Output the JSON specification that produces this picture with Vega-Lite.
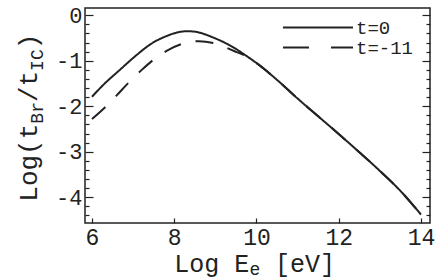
{
  "$schema": "https://vega.github.io/schema/vega-lite/v6.json",
  "width": 345,
  "height": 215,
  "autosize": {"type": "none"},
  "padding": {"left": 85, "top": 8, "right": 8, "bottom": 56},
  "background": "white",
  "config": {
    "view": {"stroke": "#222", "strokeWidth": 1.5},
    "axis": {"grid": false, "domain": false, "title": null, "tickColor": "#222", "labelColor": "#222", "labelFont": "Liberation Mono", "tickWidth": 1.2},
    "text": {"font": "Liberation Mono", "color": "#222", "fontWeight": "normal"}
  },
  "data": {
    "values": [
      {"x": 6.0, "y": -1.79, "s": "t=0"},
      {"x": 6.32, "y": -1.49, "s": "t=0"},
      {"x": 6.64, "y": -1.23, "s": "t=0"},
      {"x": 7.05, "y": -0.9, "s": "t=0"},
      {"x": 7.45, "y": -0.62, "s": "t=0"},
      {"x": 7.86, "y": -0.44, "s": "t=0"},
      {"x": 8.06, "y": -0.38, "s": "t=0"},
      {"x": 8.3, "y": -0.35, "s": "t=0"},
      {"x": 8.5, "y": -0.36, "s": "t=0"},
      {"x": 8.72, "y": -0.41, "s": "t=0"},
      {"x": 8.95, "y": -0.49, "s": "t=0"},
      {"x": 9.2, "y": -0.59, "s": "t=0"},
      {"x": 9.5, "y": -0.74, "s": "t=0"},
      {"x": 9.75, "y": -0.89, "s": "t=0"},
      {"x": 10.0, "y": -1.05, "s": "t=0"},
      {"x": 10.5, "y": -1.42, "s": "t=0"},
      {"x": 11.0, "y": -1.83, "s": "t=0"},
      {"x": 11.5, "y": -2.22, "s": "t=0"},
      {"x": 12.0, "y": -2.61, "s": "t=0"},
      {"x": 12.5, "y": -3.01, "s": "t=0"},
      {"x": 13.0, "y": -3.42, "s": "t=0"},
      {"x": 13.5, "y": -3.86, "s": "t=0"},
      {"x": 14.0, "y": -4.38, "s": "t=0"},
      {"x": 6.0, "y": -2.28, "s": "t=-11"},
      {"x": 6.32, "y": -2.02, "s": "t=-11"},
      {"x": 6.6, "y": -1.76, "s": "t=-11"},
      {"x": 6.88, "y": -1.49, "s": "t=-11"},
      {"x": 7.21, "y": -1.2, "s": "t=-11"},
      {"x": 7.49, "y": -0.98, "s": "t=-11"},
      {"x": 7.86, "y": -0.76, "s": "t=-11"},
      {"x": 8.22, "y": -0.62, "s": "t=-11"},
      {"x": 8.6, "y": -0.57, "s": "t=-11"},
      {"x": 9.03, "y": -0.63, "s": "t=-11"},
      {"x": 9.44, "y": -0.78, "s": "t=-11"},
      {"x": 9.75, "y": -0.9, "s": "t=-11"},
      {"x": 10.0, "y": -1.05, "s": "t=-11"},
      {"x": 10.5, "y": -1.42, "s": "t=-11"},
      {"x": 11.0, "y": -1.83, "s": "t=-11"},
      {"x": 11.5, "y": -2.22, "s": "t=-11"},
      {"x": 12.0, "y": -2.61, "s": "t=-11"},
      {"x": 12.5, "y": -3.01, "s": "t=-11"},
      {"x": 13.0, "y": -3.42, "s": "t=-11"},
      {"x": 13.5, "y": -3.86, "s": "t=-11"},
      {"x": 14.0, "y": -4.38, "s": "t=-11"}
    ]
  },
  "layer": [
    {
      "mark": {"type": "line", "strokeWidth": 2, "color": "#222", "interpolate": "monotone"},
      "encoding": {
        "x": {
          "field": "x", "type": "quantitative",
          "scale": {"domain": [5.83, 14.219], "nice": false, "zero": false},
          "axis": {"orient": "bottom", "values": [6, 8, 10, 12, 14], "tickSize": -5, "labelPadding": 8, "labelFontSize": 23, "labelFlush": false, "labelOverlap": false}
        },
        "y": {
          "field": "y", "type": "quantitative",
          "scale": {"domain": [-4.565, 0.16], "nice": false, "zero": false},
          "axis": {
            "orient": "left",
            "values": [0, -0.2, -0.4, -0.6, -0.8, -1, -1.2, -1.4, -1.6, -1.8, -2, -2.2, -2.4, -2.6, -2.8, -3, -3.2, -3.4, -3.6, -3.8, -4, -4.2, -4.4],
            "tickSize": {"condition": {"test": "abs(datum.value - round(datum.value)) < 0.001", "value": -8}, "value": -4},
            "labelPadding": 11,
            "labelFontSize": 22,
            "labelOverlap": false,
            "labelFlush": false,
            "labelExpr": "abs(datum.value - round(datum.value)) < 0.001 ? (datum.value < -0.5 ? '-' + abs(round(datum.value)) : '0') : ''"
          }
        },
        "strokeDash": {
          "field": "s", "type": "nominal",
          "scale": {"domain": ["t=0", "t=-11"], "range": [[1, 0], [18, 15]]},
          "legend": null
        }
      }
    },
    {
      "mark": {"type": "point", "opacity": 0},
      "encoding": {
        "x": {"field": "x", "type": "quantitative"},
        "y": {
          "field": "y", "type": "quantitative",
          "axis": {
            "orient": "right", "labels": false,
            "values": [0, -0.2, -0.4, -0.6, -0.8, -1, -1.2, -1.4, -1.6, -1.8, -2, -2.2, -2.4, -2.6, -2.8, -3, -3.2, -3.4, -3.6, -3.8, -4, -4.2, -4.4],
            "tickSize": {"condition": {"test": "abs(datum.value - round(datum.value)) < 0.001", "value": -8}, "value": -4}
          }
        }
      }
    },
    {
      "data": {"values": [{}]},
      "mark": {"type": "rule", "strokeWidth": 2, "color": "#222"},
      "encoding": {"x": {"datum": 10.644}, "x2": {"datum": 12.347}, "y": {"datum": -0.27, "axis": null}}
    },
    {
      "data": {"values": [{}]},
      "mark": {"type": "rule", "strokeWidth": 2, "color": "#222", "strokeDash": [26, 22]},
      "encoding": {"x": {"datum": 10.644}, "x2": {"datum": 12.347}, "y": {"datum": -0.71, "axis": null}}
    },
    {
      "data": {"values": [{}]},
      "mark": {"type": "text", "fontSize": 19, "align": "left", "baseline": "middle"},
      "encoding": {"x": {"datum": 12.42}, "y": {"datum": -0.27, "axis": null}, "text": {"value": "t=0"}}
    },
    {
      "data": {"values": [{}]},
      "mark": {"type": "text", "fontSize": 19, "align": "left", "baseline": "middle"},
      "encoding": {"x": {"datum": 12.42}, "y": {"datum": -0.71, "axis": null}, "text": {"value": "t=-11"}}
    },
    {
      "data": {"values": [{}]},
      "mark": {"type": "text", "fontSize": 25, "align": "left", "baseline": "alphabetic"},
      "encoding": {"x": {"datum": 8.0}, "y": {"datum": -5.645, "axis": null}, "text": {"value": "Log E"}}
    },
    {
      "data": {"values": [{}]},
      "mark": {"type": "text", "fontSize": 18, "align": "left", "baseline": "alphabetic"},
      "encoding": {"x": {"datum": 9.83}, "y": {"datum": -5.71, "axis": null}, "text": {"value": "e"}}
    },
    {
      "data": {"values": [{}]},
      "mark": {"type": "text", "fontSize": 25, "align": "left", "baseline": "alphabetic"},
      "encoding": {"x": {"datum": 10.45}, "y": {"datum": -5.645, "axis": null}, "text": {"value": "[eV]"}}
    },
    {
      "data": {"values": [{}]},
      "mark": {"type": "text", "fontSize": 26, "align": "left", "baseline": "alphabetic", "angle": 270},
      "encoding": {"x": {"datum": 4.655}, "y": {"datum": -4.097, "axis": null}, "text": {"value": "Log(t"}}
    },
    {
      "data": {"values": [{}]},
      "mark": {"type": "text", "fontSize": 18, "align": "left", "baseline": "alphabetic", "angle": 270},
      "encoding": {"x": {"datum": 4.809}, "y": {"datum": -2.382, "axis": null}, "text": {"value": "Br"}}
    },
    {
      "data": {"values": [{}]},
      "mark": {"type": "text", "fontSize": 26, "align": "left", "baseline": "alphabetic", "angle": 270},
      "encoding": {"x": {"datum": 4.655}, "y": {"datum": -1.908, "axis": null}, "text": {"value": "/t"}}
    },
    {
      "data": {"values": [{}]},
      "mark": {"type": "text", "fontSize": 18, "align": "left", "baseline": "alphabetic", "angle": 270},
      "encoding": {"x": {"datum": 4.809}, "y": {"datum": -1.222, "axis": null}, "text": {"value": "IC"}}
    },
    {
      "data": {"values": [{}]},
      "mark": {"type": "text", "fontSize": 26, "align": "left", "baseline": "alphabetic", "angle": 270},
      "encoding": {"x": {"datum": 4.655}, "y": {"datum": -0.747, "axis": null}, "text": {"value": ")"}}
    }
  ],
  "resolve": {"axis": {"y": "independent"}}
}
